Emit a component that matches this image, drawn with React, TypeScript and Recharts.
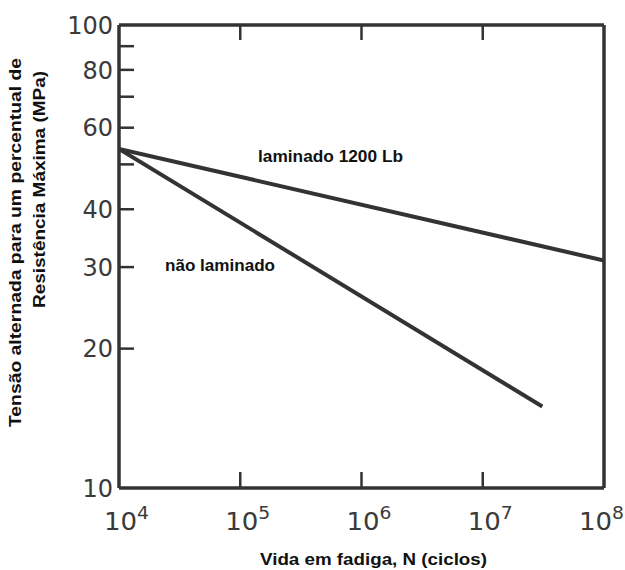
import React from 'react';
import { LineChart, Line, XAxis, YAxis } from 'recharts';

// fatigue life (cycles) on a log axis
const cycleTicks = [1e4, 1e5, 1e6, 1e7, 1e8];
// stress axis (log), labels and inner tick marks
const stressTicks = [10, 20, 30, 40, 50, 60, 70, 80, 90, 100];
const stressLabels = [10, 20, 30, 40, 60, 80, 100];
const stressMarks = [20, 30, 40, 50, 60, 70, 80, 90];

// series
const laminadoN = [1e4, 1e8];
const laminadoS = [54, 31];
const naoLaminadoN = [1e4, 3.1e7];
const naoLaminadoS = [54, 15];

const INK = '#333';
const TICK_FONT = '"DejaVu Sans", sans-serif';
const TITLE_FONT = '"Liberation Sans", Arial, sans-serif';

const laminado = laminadoN.map((n, i) => ({ n, s: laminadoS[i] }));
const naoLaminado = naoLaminadoN.map((n, i) => ({ n, s: naoLaminadoS[i] }));

const BottomTick = ({ x, y, payload, index }: any) => {
  const v = payload.value;
  const inner = v > cycleTicks[0] && v < cycleTicks[cycleTicks.length - 1];
  const exp = Math.round(Math.log10(v));
  const shift = index === cycleTicks.length - 1 ? -10 : 0;
  return (
    <g>
      {inner && <line x1={x} x2={x} y1={y} y2={y - 16} stroke={INK} strokeWidth={2.5} />}
      <text x={x - 15 + shift} y={y + 42} fill="#3a3a3a" fontFamily={TICK_FONT} fontSize={25} textLength={45} lengthAdjust="spacingAndGlyphs">
        <tspan>10</tspan>
        <tspan dy={-11} fontSize={18}>{exp}</tspan>
      </text>
    </g>
  );
};

const TopTick = ({ x, y, payload }: any) => {
  const v = payload.value;
  if (v <= cycleTicks[0] || v >= cycleTicks[cycleTicks.length - 1]) return <g />;
  return <line x1={x} x2={x} y1={y} y2={y + 15} stroke={INK} strokeWidth={2.5} />;
};

const LeftTick = ({ x, y, payload }: any) => {
  const v = payload.value;
  return (
    <g>
      {stressMarks.includes(v) && <line x1={x} x2={x + 15} y1={y} y2={y} stroke={INK} strokeWidth={2.5} />}
      {stressLabels.includes(v) && (
        <text x={x - 6} y={y} dy="0.36em" textAnchor="end" fill="#3a3a3a" fontFamily={TICK_FONT} fontSize={24}>
          {v}
        </text>
      )}
    </g>
  );
};

export default function App() {
  return (
    <div style={{ position: 'absolute', left: 0, top: 0, width: 625, height: 570, background: '#fff' }}>
      <LineChart width={625} height={570} margin={{ top: 24, right: 20, bottom: 81, left: 118 }}>
        <XAxis
          xAxisId="bottom"
          dataKey="n"
          type="number"
          scale="log"
          domain={[1e4, 1e8]}
          ticks={cycleTicks}
          height={1}
          tickSize={0}
          tickMargin={0}
          tickLine={false}
          axisLine={{ stroke: INK, strokeWidth: 3.5 }}
          tick={<BottomTick />}
          interval={0}
          allowDataOverflow
        />
        <XAxis
          xAxisId="top"
          orientation="top"
          dataKey="n"
          type="number"
          scale="log"
          domain={[1e4, 1e8]}
          ticks={cycleTicks}
          height={1}
          tickSize={0}
          tickMargin={0}
          tickLine={false}
          axisLine={{ stroke: INK, strokeWidth: 3.5 }}
          tick={<TopTick />}
          interval={0}
          allowDataOverflow
        />
        <YAxis
          yAxisId="left"
          dataKey="s"
          type="number"
          scale="log"
          domain={[10, 100]}
          ticks={stressTicks}
          width={1}
          tickSize={0}
          tickMargin={0}
          tickLine={false}
          axisLine={{ stroke: INK, strokeWidth: 3.5 }}
          tick={<LeftTick />}
          interval={0}
          allowDataOverflow
        />
        <YAxis
          yAxisId="right"
          orientation="right"
          type="number"
          scale="log"
          domain={[10, 100]}
          width={1}
          tick={false}
          tickLine={false}
          axisLine={{ stroke: INK, strokeWidth: 3.5 }}
          allowDataOverflow
        />
        <Line
          xAxisId="bottom"
          yAxisId="left"
          data={laminado}
          dataKey="s"
          stroke={INK}
          strokeWidth={4}
          dot={false}
          isAnimationActive={false}
        />
        <Line
          xAxisId="bottom"
          yAxisId="left"
          data={naoLaminado}
          dataKey="s"
          stroke={INK}
          strokeWidth={4}
          dot={false}
          isAnimationActive={false}
        />
      </LineChart>
      <svg width={625} height={570} style={{ position: 'absolute', left: 0, top: 0, pointerEvents: 'none' }}>
        <g fontFamily={TITLE_FONT} fontWeight="bold" fill="#111">
          <text x={258} y={162} fontSize={17} textLength={145} lengthAdjust="spacingAndGlyphs">laminado 1200 Lb</text>
          <text x={165} y={271} fontSize={17} textLength={110} lengthAdjust="spacingAndGlyphs">não laminado</text>
          <text x={260} y={565} fontSize={17} textLength={227} lengthAdjust="spacingAndGlyphs">Vida em fadiga, N (ciclos)</text>
          <text transform="translate(21,427) rotate(-90)" fontSize={16} textLength={369} lengthAdjust="spacingAndGlyphs">
            Tensão alternada para um percentual de
          </text>
          <text transform="translate(45,308) rotate(-90)" fontSize={16} textLength={237} lengthAdjust="spacingAndGlyphs">
            Resistência Máxima (MPa)
          </text>
        </g>
      </svg>
    </div>
  );
}
